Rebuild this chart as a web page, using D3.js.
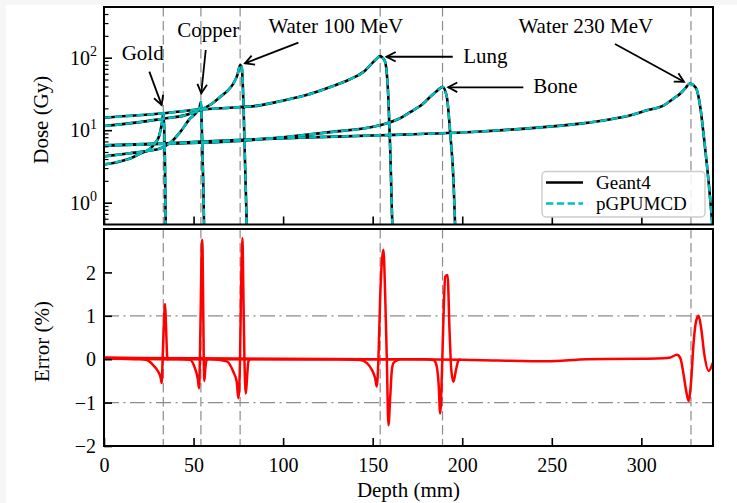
<!DOCTYPE html>
<html><head><meta charset="utf-8">
<script src="https://cdn.jsdelivr.net/npm/d3@7"></script>
<style>
body{margin:0;background:#f6f6f6;}
svg{display:block;font-family:"Liberation Serif","Times New Roman",serif;}
</style></head><body>
<svg id="chart" width="737" height="503"></svg>
<script>
// ---------- data ----------
const depthTicks = [0, 50, 100, 150, 200, 250, 300];
const doseTicks = [1, 10, 100];
const doseMinorTicks = [0.6,0.7,0.8,0.9,2,3,4,5,6,7,8,9,20,30,40,50,60,70,80,90,200,300,400];
const errorTicks = [-2, -1, 0, 1, 2];
const errorRefLines = [-1, 1];
const peakDepths = [33.1, 54.1, 76, 154.2, 189, 327.7];
const seriesNames = ["Geant4", "pGPUMCD"];

// depth (mm), dose (Gy)
const goldDose = [[0,3.37],[8.9,3.71],[15,4.1],[20.1,4.74],[25.7,5.56],[28.5,6.6],[30.9,8.5],[32.4,12.9],[33.1,17],[33.6,11],[34.0,4],[34.5,0.4],[34.8,0.3]];
const copperDose = [[0,4.35],[14.5,4.8],[25,5.2],[31.3,5.6],[37,6.7],[42.5,9.4],[48,14.4],[51.8,17.8],[53.4,21],[54.1,24.5],[54.8,7],[55.5,1.5],[56,0.3]];
const water100Dose = [[0,11.4],[20,12.9],[33,14.4],[45,16],[54.6,19.4],[60,23],[64.8,28.7],[69,35],[72.2,44],[74.5,58],[76,79],[76.9,74],[77.8,26],[78.8,3.1],[79.7,0.5],[80,0.3]];
const lungDose = [[0,14.9],[33,17.1],[54.6,19.4],[70.4,20.4],[87,22],[98,25],[112,30],[126,39],[137,50],[144.9,63.7],[150.4,87.6],[152.8,100],[154.2,105],[155.5,100],[157,87],[158.8,26],[159.8,5.3],[161,0.5],[161.5,0.3]];
const boneDose = [[0,6.1],[35,6.5],[70.4,7.0],[100,8],[126,9.4],[154,11.7],[165,14.5],[172.6,18.8],[178,23],[182,28.7],[186,35],[189,39.5],[191.4,28.7],[193.3,9],[195.2,1.84],[196,0.5],[196.5,0.3]];
const water230Dose = [[0,6.2],[35,6.6],[70.4,7.24],[110,7.9],[154,8.5],[210,9.6],[247,11.1],[266,12.3],[284.5,14.4],[294,16.1],[303,18.8],[312.5,22],[318,27.4],[321.8,32],[325,39],[327,44],[329,42],[331,35.6],[333,20],[334.7,9],[336.5,3.5],[338.5,1.07],[339.6,0.5],[340,0.35]];

// depth (mm), error (%)
const goldErr = [[0,0.02],[10,0.01],[20,0],[23.9,-0.02],[27.5,-0.14],[30.3,-0.29],[31.6,-0.42],[32.2,-0.55],[32.8,0.1],[33.4,0.79],[34.1,1.27],[34.6,0.79],[35.4,0],[36,0]];
const copperErr = [[0,0.02],[20,0.01],[40,0],[48,-0.01],[50.8,-0.21],[52.3,-0.44],[53.1,-0.67],[53.6,0.2],[54,1.17],[54.6,2.63],[54.9,2.75],[55.3,1.56],[55.7,0],[56,-0.5],[56.6,-0.2],[57.4,0],[58,0]];
const water100Err = [[0,0.03],[30,0.01],[60,0],[68.5,-0.05],[72.2,-0.29],[74.1,-0.52],[75,-0.9],[75.9,-0.1],[76.5,1.56],[77.3,2.79],[77.8,1.56],[78.4,0],[79.2,-0.79],[79.9,-0.4],[80.6,-0.05],[81.5,0]];
const lungErr = [[0,0.02],[50,0.01],[100,0],[130,0],[143,-0.02],[146.8,-0.09],[149.6,-0.25],[151.4,-0.44],[152.3,-0.63],[153.2,0],[154.2,1.44],[156,2.52],[157,1.44],[157.9,0],[158.8,-1.52],[159.8,-0.86],[160.7,-0.25],[161.6,-0.09],[163.5,-0.03],[165,0]];
const boneErr = [[0,0.01],[100,0],[180,0],[184,-0.02],[185.5,-0.12],[186.8,-0.56],[187.7,-1.25],[188.7,-0.25],[189.6,1.06],[190.5,1.9],[191.8,1.94],[192.9,0.67],[193.9,-0.25],[195.1,-0.52],[196.5,-0.25],[197.9,-0.03],[199,0]];
const water230Err = [[0,0.04],[20,0.03],[50,0.02],[100,0.01],[150,0],[200,-0.01],[220,-0.03],[247.3,-0.05],[270,0],[300,0.01],[312.5,0.02],[316.2,0.04],[319.9,0.1],[321.8,0.02],[323.6,-0.36],[325.1,-0.75],[326.4,-0.96],[327.8,-0.5],[329.2,0.4],[330.7,0.9],[332,1.0],[333.4,0.71],[335.2,0.1],[337.6,-0.27],[339.8,-0.1],[340,-0.08]];

const doseSeries = [goldDose, copperDose, water100Dose, lungDose, boneDose, water230Dose];
const errorSeries = [goldErr, copperErr, water100Err, lungErr, boneErr, water230Err];

// annotations: label, text anchor point (depth, dose), arrow start, arrow tip
const annotations = [
  {label:"Gold", anchor:"middle", tx:21.6, ty:92.9, ax:25.3, ay:64.1, bx:32.2, by:22.2},
  {label:"Copper", anchor:"middle", tx:58.2, ty:194.6, ax:56.8, ay:127.6, bx:54.3, by:32.3},
  {label:"Water 100 MeV", anchor:"middle", tx:129.4, ty:216.8, ax:108.5, ay:161, bx:78.7, by:83.6},
  {label:"Lung", anchor:"start", tx:200.6, ty:83.6, ax:194.7, ay:103, bx:157.8, by:103},
  {label:"Bone", anchor:"start", tx:239.7, ty:32.3, ax:234.1, ay:39, bx:192.2, by:39},
  {label:"Water 230 MeV", anchor:"middle", tx:269, ty:216.8, ax:285.3, ay:154.5, bx:323.8, by:46.6}
];

// ---------- layout ----------
const L = 104, R = 713;
const topT = 7, topB = 224.5, botT = 229, botB = 446;

const svg = d3.select("#chart");
svg.append("rect").attr("x",6).attr("y",5).attr("width",731).attr("height",498).attr("fill","#fff");

const x = d3.scaleLinear().domain([0,340]).range([L,R]);
const yTop = d3.scaleLog().domain([0.5,500]).range([topB,topT]);
const yBot = d3.scaleLinear().domain([-2,3]).range([botB,botT]);

const defs = svg.append("defs");
defs.append("clipPath").attr("id","clipTop").append("rect").attr("x",L).attr("y",topT).attr("width",R-L).attr("height",topB-topT);
defs.append("clipPath").attr("id","clipBot").append("rect").attr("x",L).attr("y",botT).attr("width",R-L).attr("height",botB-botT);
defs.append("marker").attr("id","arrow").attr("viewBox","-12 -7 14 14").attr("markerWidth",14).attr("markerHeight",14)
  .attr("markerUnits","userSpaceOnUse").attr("refX",0).attr("refY",0).attr("orient","auto")
  .append("path").attr("d","M-9,-4.8 L0,0 L-9,4.8").attr("fill","none").attr("stroke","#000").attr("stroke-width",1.8);

// ---------- top panel ----------
const gT = svg.append("g");
const gTc = gT.append("g").attr("clip-path","url(#clipTop)");
gTc.selectAll(".vl").data(peakDepths).join("line")
  .attr("x1",d=>x(d)).attr("x2",d=>x(d)).attr("y1",topT).attr("y2",topB)
  .attr("stroke","#8c8c8c").attr("stroke-width",1.2).attr("stroke-dasharray","9.5,4.5");

const lineTop = d3.line().x(d=>x(d[0])).y(d=>yTop(d[1])).curve(d3.curveMonotoneX);
doseSeries.forEach(s=>{
  gTc.append("path").attr("d",lineTop(s)).attr("fill","none").attr("stroke","#000").attr("stroke-width",2.6);
});
doseSeries.forEach(s=>{
  gTc.append("path").attr("d",lineTop(s)).attr("fill","none").attr("stroke","#00bfbf").attr("stroke-width",2.4).attr("stroke-dasharray","7.4,3.4");
});

// axes
gT.append("g").attr("transform",`translate(${L},0)`)
  .call(d3.axisLeft(yTop).tickValues(doseMinorTicks).tickSize(-4.5).tickFormat(""))
  .call(g=>{g.select(".domain").remove(); g.selectAll("line").attr("stroke-width",1.2);});
gT.append("g").attr("transform",`translate(${L},0)`)
  .call(d3.axisLeft(yTop).tickValues(doseTicks).tickSize(-8).tickFormat(""))
  .call(g=>{g.select(".domain").remove(); g.selectAll("line").attr("stroke-width",1.6);});
gT.append("g").attr("transform",`translate(0,${topB})`)
  .call(d3.axisBottom(x).tickValues(depthTicks).tickSize(-8).tickFormat(""))
  .call(g=>{g.select(".domain").remove(); g.selectAll("line").attr("stroke-width",1.6);});
const yl = gT.selectAll(".ylab").data(doseTicks).join("text")
  .attr("x",97).attr("y",d=>yTop(d)+7).attr("text-anchor","end").attr("font-size",20).attr("fill","#000");
yl.append("tspan").text("10");
yl.append("tspan").attr("dy",-8.5).attr("font-size",14).text(d=>Math.round(Math.log10(d)));

gT.append("rect").attr("x",L).attr("y",topT).attr("width",R-L).attr("height",topB-topT)
  .attr("fill","none").attr("stroke","#000").attr("stroke-width",2);

gT.append("text").attr("transform",`translate(47.5,${(topT+topB)/2+4}) rotate(-90)`)
  .attr("text-anchor","middle").attr("font-size",21).text("Dose (Gy)");

// annotations
annotations.forEach(a=>{
  gT.append("line").attr("x1",x(a.ax)).attr("y1",yTop(a.ay)).attr("x2",x(a.bx)).attr("y2",yTop(a.by))
    .attr("stroke","#000").attr("stroke-width",1.8).attr("marker-end","url(#arrow)");
  gT.append("text").attr("x",x(a.tx)).attr("y",yTop(a.ty)).attr("text-anchor",a.anchor)
    .attr("font-size",21).text(a.label);
});

// legend
const lg = gT.append("g");
lg.append("rect").attr("x",542).attr("y",171.5).attr("width",163).attr("height",45.5).attr("rx",4)
  .attr("fill","#fff").attr("fill-opacity",0.85).attr("stroke","#cccccc").attr("stroke-width",1.4);
const legStyles = [{c:"#000",dash:null},{c:"#00bfbf",dash:"7.4,3.4"}];
seriesNames.forEach((n,i)=>{
  const yy = 182.5 + i*21;
  lg.append("line").attr("x1",546).attr("x2",583).attr("y1",yy).attr("y2",yy)
    .attr("stroke",legStyles[i].c).attr("stroke-width",2.6).attr("stroke-dasharray",legStyles[i].dash);
  lg.append("text").attr("x",596).attr("y",yy+6.5).attr("font-size",19).text(n);
});

// ---------- bottom panel ----------
const gB = svg.append("g");
const gBc = gB.append("g").attr("clip-path","url(#clipBot)");
gBc.selectAll(".vl").data(peakDepths).join("line")
  .attr("x1",d=>x(d)).attr("x2",d=>x(d)).attr("y1",botT).attr("y2",botB)
  .attr("stroke","#8c8c8c").attr("stroke-width",1.2).attr("stroke-dasharray","9.5,4.5");
gBc.selectAll(".hl").data(errorRefLines).join("line")
  .attr("x1",L).attr("x2",R).attr("y1",d=>yBot(d)).attr("y2",d=>yBot(d))
  .attr("stroke","#8c8c8c").attr("stroke-width",1.2).attr("stroke-dasharray","15,4.5,2,4.5");

const lineBot = d3.line().x(d=>x(d[0])).y(d=>yBot(d[1])).curve(d3.curveMonotoneX);
errorSeries.forEach(s=>{
  gBc.append("path").attr("d",lineBot(s)).attr("fill","none").attr("stroke","#ff0000").attr("stroke-width",2.5)
    .attr("stroke-linejoin","round");
});

gB.append("g").attr("transform",`translate(${L},0)`)
  .call(d3.axisLeft(yBot).tickValues(errorTicks).tickSize(-8).tickPadding(8).tickFormat(d3.format("d")))
  .call(g=>{g.select(".domain").remove(); g.selectAll("line").attr("stroke-width",1.6);
    g.selectAll("text").attr("font-size",20).attr("font-family","Liberation Serif, serif").attr("dy","0.33em");});
gB.append("g").attr("transform",`translate(0,${botB})`)
  .call(d3.axisBottom(x).tickValues(depthTicks).tickSize(-8).tickPadding(12).tickFormat(d3.format("d")))
  .call(g=>{g.select(".domain").remove(); g.selectAll("line").attr("stroke-width",1.6);
    g.selectAll("text").attr("font-size",20).attr("font-family","Liberation Serif, serif");});

gB.append("rect").attr("x",L).attr("y",botT).attr("width",R-L).attr("height",botB-botT)
  .attr("fill","none").attr("stroke","#000").attr("stroke-width",2);

gB.append("text").attr("transform",`translate(49,${(botT+botB)/2+4}) rotate(-90)`)
  .attr("text-anchor","middle").attr("font-size",21).text("Error (%)");
gB.append("text").attr("x",(L+R)/2).attr("y",497).attr("text-anchor","middle").attr("font-size",21).text("Depth (mm)");
</script>
</body></html>
